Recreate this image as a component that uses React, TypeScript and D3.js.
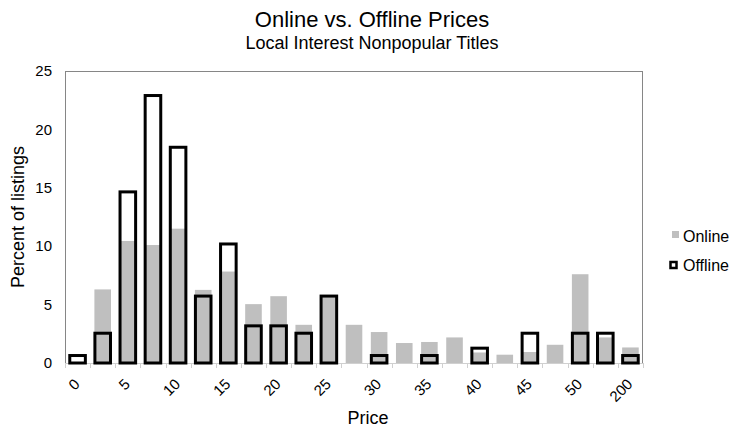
import { useRef, useEffect } from 'react'
import * as d3 from 'd3'

const categories = ['0', '2.5', '5', '7.5', '10', '12.5', '15', '17.5', '20', '22.5', '25', '27.5',
  '30', '32.5', '35', '37.5', '40', '42.5', '45', '47.5', '50', '100', '200']
const online = [0, 6.3, 10.45, 10.1, 11.5, 6.26, 7.83, 5.04, 5.72, 3.27, 5.7, 3.27,
  2.65, 1.71, 1.8, 2.19, 0.9, 0.71, 0.94, 1.56, 7.6, 2.19, 1.33]
const offline = [0.64, 2.55, 14.65, 22.9, 18.47, 5.73, 10.19, 3.18, 3.18, 2.55, 5.73, 0,
  0.64, 0, 0.64, 0, 1.27, 0, 2.55, 0, 2.55, 2.55, 0.64]
const yTicks = [0, 5, 10, 15, 20, 25]

export default function App() {
  const chartRef = useRef<HTMLDivElement>(null)

  useEffect(() => {
    const container = chartRef.current
    if (container === null) return
    document.body.style.margin = '0'
    container.innerHTML = ''

    const width = 737
    const height = 430
    const plot = { left: 65, right: 643, top: 71, bottom: 363 }
    const font = "'Liberation Sans', Arial, sans-serif"

    const svg = d3.select(container).append('svg')
      .attr('width', width)
      .attr('height', height)
      .style('display', 'block')
      .style('font-family', font)

    const x = d3.scaleBand<string>()
      .domain(categories)
      .range([plot.left, plot.right])
      .paddingInner(0.34)
      .paddingOuter(0.17)
    const step = x.step()

    const y = d3.scaleLinear()
      .domain([0, 25])
      .range([plot.bottom, plot.top])

    // plot frame
    svg.append('rect')
      .attr('x', plot.left + 0.5)
      .attr('y', plot.top + 0.5)
      .attr('width', plot.right - plot.left - 1)
      .attr('height', plot.bottom - plot.top)
      .attr('fill', 'none')
      .attr('stroke', '#868686')

    // x axis line + ticks
    svg.append('line')
      .attr('x1', plot.left).attr('x2', plot.right)
      .attr('y1', plot.bottom + 0.5).attr('y2', plot.bottom + 0.5)
      .attr('stroke', '#d0d0d0')
    svg.selectAll('.xtick')
      .data(d3.range(categories.length + 1))
      .join('line')
      .attr('x1', (i) => Math.round(plot.left + i * step) + 0.5)
      .attr('x2', (i) => Math.round(plot.left + i * step) + 0.5)
      .attr('y1', plot.bottom)
      .attr('y2', plot.bottom + 5)
      .attr('stroke', '#d0d0d0')

    // online bars
    svg.selectAll('.online')
      .data(online)
      .join('rect')
      .attr('x', (d, i) => x(categories[i])!)
      .attr('y', (d) => y(d))
      .attr('width', x.bandwidth())
      .attr('height', (d) => y(0) - y(d))
      .attr('fill', '#bfbfbf')

    // offline bars (outline only)
    svg.selectAll('.offline')
      .data(offline.map((v, i) => ({ v, i })).filter((d) => d.v > 0))
      .join('rect')
      .attr('x', (d) => x(categories[d.i])! + 0.5)
      .attr('y', (d) => y(d.v))
      .attr('width', x.bandwidth() - 1)
      .attr('height', (d) => y(0) - y(d.v))
      .attr('fill', 'none')
      .attr('stroke', '#000')
      .attr('stroke-width', 3)

    // y tick labels
    svg.selectAll('.ylab')
      .data(yTicks)
      .join('text')
      .attr('x', 52)
      .attr('y', (d) => y(d))
      .attr('dy', '0.35em')
      .attr('text-anchor', 'end')
      .attr('font-size', 15)
      .attr('fill', '#000')
      .text((d) => d)

    // x tick labels (every other category)
    svg.selectAll('.xlab')
      .data(categories.filter((c, i) => i % 2 === 0))
      .join('text')
      .attr('text-anchor', 'end')
      .attr('font-size', 15)
      .attr('transform', (d) => {
        const cx = x(d)! + x.bandwidth() / 2 + 3
        return `translate(${cx},385) rotate(-45)`
      })
      .text((d) => d)

    // titles
    svg.append('text')
      .attr('x', 372).attr('y', 27)
      .attr('text-anchor', 'middle')
      .attr('font-size', 22)
      .text('Online vs. Offline Prices')
    svg.append('text')
      .attr('x', 372).attr('y', 49)
      .attr('text-anchor', 'middle')
      .attr('font-size', 18)
      .text('Local Interest Nonpopular Titles')

    svg.append('text')
      .attr('x', 368).attr('y', 424)
      .attr('text-anchor', 'middle')
      .attr('font-size', 18)
      .text('Price')

    svg.append('text')
      .attr('transform', 'translate(24,217) rotate(-90)')
      .attr('text-anchor', 'middle')
      .attr('font-size', 18)
      .text('Percent of listings')

    // legend
    svg.append('rect')
      .attr('x', 672).attr('y', 231)
      .attr('width', 7).attr('height', 7)
      .attr('fill', '#bfbfbf')
    svg.append('text')
      .attr('x', 683).attr('y', 241.5)
      .attr('font-size', 16)
      .text('Online')
    svg.append('rect')
      .attr('x', 670.5).attr('y', 262)
      .attr('width', 6).attr('height', 6)
      .attr('fill', 'none')
      .attr('stroke', '#000')
      .attr('stroke-width', 2.5)
    svg.append('text')
      .attr('x', 683).attr('y', 270.5)
      .attr('font-size', 16)
      .text('Offline')
  }, [])

  return (
    <div ref={chartRef}>
    </div>
  )
}
